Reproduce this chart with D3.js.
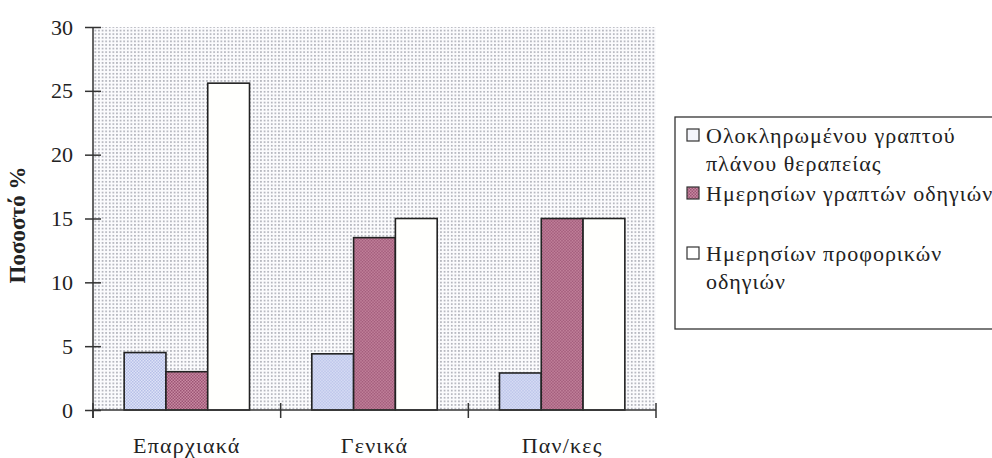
<!DOCTYPE html>
<html>
<head>
<meta charset="utf-8">
<script src="https://cdn.jsdelivr.net/npm/d3@7"></script>
<style>
  html, body { margin: 0; padding: 0; background: #fff; }
  svg { display: block; font-family: "Liberation Serif", "DejaVu Serif", serif; }
</style>
</head>
<body>
<svg id="chart" width="992" height="458"></svg>
<script>
// Hospital categories along the x axis
const categories = ["Επαρχιακά", "Γενικά", "Παν/κες"];

// Series: type of written / oral instructions (percent of cases)
const seriesNames = [
  "Ολοκληρωμένου γραπτού πλάνου θεραπείας",
  "Ημερησίων γραπτών οδηγιών",
  "Ημερησίων προφορικών οδηγιών"
];
const valuesPlan    = [4.5, 4.4, 2.9];
const valuesWritten = [3.0, 13.5, 15.0];
const valuesOral    = [25.6, 15.0, 15.0];

const yTicks = [0, 5, 10, 15, 20, 25, 30];
const yTitle = "Ποσοστό %";

// Legend labels broken into lines as displayed
const legendLines = [
  ["Ολοκληρωμένου γραπτού", "πλάνου θεραπείας"],
  ["Ημερησίων γραπτών οδηγιών"],
  ["Ημερησίων προφορικών", "οδηγιών"]
];

const seriesValues = [valuesPlan, valuesWritten, valuesOral];

const svg = d3.select("#chart");
const defs = svg.append("defs");

// Dotted plot-area background
const dots = defs.append("pattern").attr("id", "dots")
  .attr("patternUnits", "userSpaceOnUse").attr("width", 3.6).attr("height", 3.6);
dots.append("rect").attr("width", 3.6).attr("height", 3.6).attr("fill", "#fbfbfd");
dots.append("rect").attr("x", 1).attr("y", 1).attr("width", 1.5).attr("height", 1.5).attr("fill", "#9c9ea8");

// Light blue checker fill
const blue = defs.append("pattern").attr("id", "checkBlue")
  .attr("patternUnits", "userSpaceOnUse").attr("width", 3).attr("height", 3);
blue.append("rect").attr("width", 3).attr("height", 3).attr("fill", "#dde2f7");
blue.append("rect").attr("width", 1.5).attr("height", 1.5).attr("fill", "#b7c0e8");
blue.append("rect").attr("x", 1.5).attr("y", 1.5).attr("width", 1.5).attr("height", 1.5).attr("fill", "#b7c0e8");

// Mauve checker fill
const red = defs.append("pattern").attr("id", "checkRed")
  .attr("patternUnits", "userSpaceOnUse").attr("width", 3).attr("height", 3);
red.append("rect").attr("width", 3).attr("height", 3).attr("fill", "#c88aa2");
red.append("rect").attr("width", 1.5).attr("height", 1.5).attr("fill", "#9c5475");
red.append("rect").attr("x", 1.5).attr("y", 1.5).attr("width", 1.5).attr("height", 1.5).attr("fill", "#9c5475");

const fills = ["url(#checkBlue)", "url(#checkRed)", "#fffffd"];
const legendFills = ["#f4f5fb", "url(#checkRed)", "#ffffff"];

const plotLeft = 93, plotRight = 656, plotTop = 27, plotBottom = 410;

const x = d3.scaleBand().domain(categories).range([plotLeft, plotRight]).padding(0);
const bw = x.bandwidth();
const inset = bw * 0.166;
const x1 = d3.scaleBand().domain(d3.range(seriesNames.length)).range([inset, bw - inset]).padding(0);
const y = d3.scaleLinear().domain([0, 30]).range([plotBottom, plotTop]);

// Plot area
svg.append("rect")
  .attr("x", plotLeft).attr("y", y(30))
  .attr("width", plotRight - plotLeft).attr("height", y(0) - y(30))
  .attr("fill", "url(#dots)");

// Bars
const groups = svg.append("g").selectAll("g")
  .data(categories)
  .join("g")
  .attr("transform", d => `translate(${x(d)},0)`);

groups.selectAll("rect")
  .data((c, ci) => seriesValues.map((vals, si) => ({ si, v: vals[ci] })))
  .join("rect")
  .attr("x", d => x1(d.si))
  .attr("y", d => y(d.v))
  .attr("width", x1.bandwidth())
  .attr("height", d => y(0) - y(d.v))
  .attr("fill", d => fills[d.si])
  .attr("stroke", "#222")
  .attr("stroke-width", 1.6);

// Y axis with crossing ticks
const yAxis = d3.axisLeft(y).tickValues(yTicks).tickSize(0).tickPadding(20);
const yg = svg.append("g").attr("transform", `translate(${plotLeft},0)`).call(yAxis);
yg.select(".domain").remove();
yg.selectAll(".tick text")
  .attr("font-size", 22).attr("fill", "#222")
  .attr("font-family", "Liberation Serif, serif");
yg.selectAll(".tick").append("line")
  .attr("x1", -8).attr("x2", 8).attr("stroke", "#333").attr("stroke-width", 1.5);
svg.append("line")
  .attr("x1", plotLeft).attr("x2", plotLeft).attr("y1", y(30)).attr("y2", plotBottom + 8)
  .attr("stroke", "#333").attr("stroke-width", 1.5);

// X axis
const xAxis = d3.axisBottom(x).tickSize(0).tickPadding(27);
const xg = svg.append("g").attr("transform", `translate(0,${plotBottom})`).call(xAxis);
xg.select(".domain").remove();
xg.selectAll(".tick text")
  .attr("font-size", 22).attr("fill", "#222")
  .attr("letter-spacing", "1.2px")
  .attr("font-family", "Liberation Serif, serif");
svg.append("line")
  .attr("x1", plotLeft).attr("x2", plotRight).attr("y1", plotBottom).attr("y2", plotBottom)
  .attr("stroke", "#333").attr("stroke-width", 1.5);
// Category separators
const seps = categories.map(c => x(c) + bw).concat([plotLeft]);
svg.append("g").selectAll("line")
  .data(seps)
  .join("line")
  .attr("x1", d => d).attr("x2", d => d)
  .attr("y1", plotBottom - 7).attr("y2", plotBottom + 8)
  .attr("stroke", "#333").attr("stroke-width", 1.5);

// Y axis title
svg.append("text")
  .attr("transform", "translate(25,225) rotate(-90)")
  .attr("text-anchor", "middle")
  .attr("font-size", 23).attr("font-weight", "bold").attr("fill", "#222")
  .text(yTitle);

// Legend
const lg = svg.append("g");
lg.append("rect")
  .attr("x", 675).attr("y", 117).attr("width", 330).attr("height", 212)
  .attr("fill", "#fff").attr("stroke", "#333").attr("stroke-width", 1.3);

const legendY = [135, 193, 253];
const lineGap = 28;
legendLines.forEach((lines, i) => {
  lg.append("rect")
    .attr("x", 687).attr("y", legendY[i] - 6).attr("width", 12).attr("height", 12)
    .attr("fill", legendFills[i]).attr("stroke", "#333").attr("stroke-width", 1.2);
  lines.forEach((t, j) => {
    lg.append("text")
      .attr("x", 706).attr("y", legendY[i] + j * lineGap)
      .attr("dy", "0.35em")
      .attr("font-size", 22).attr("fill", "#222")
      .attr("letter-spacing", "1px")
      .text(t);
  });
});
</script>
</body>
</html>
